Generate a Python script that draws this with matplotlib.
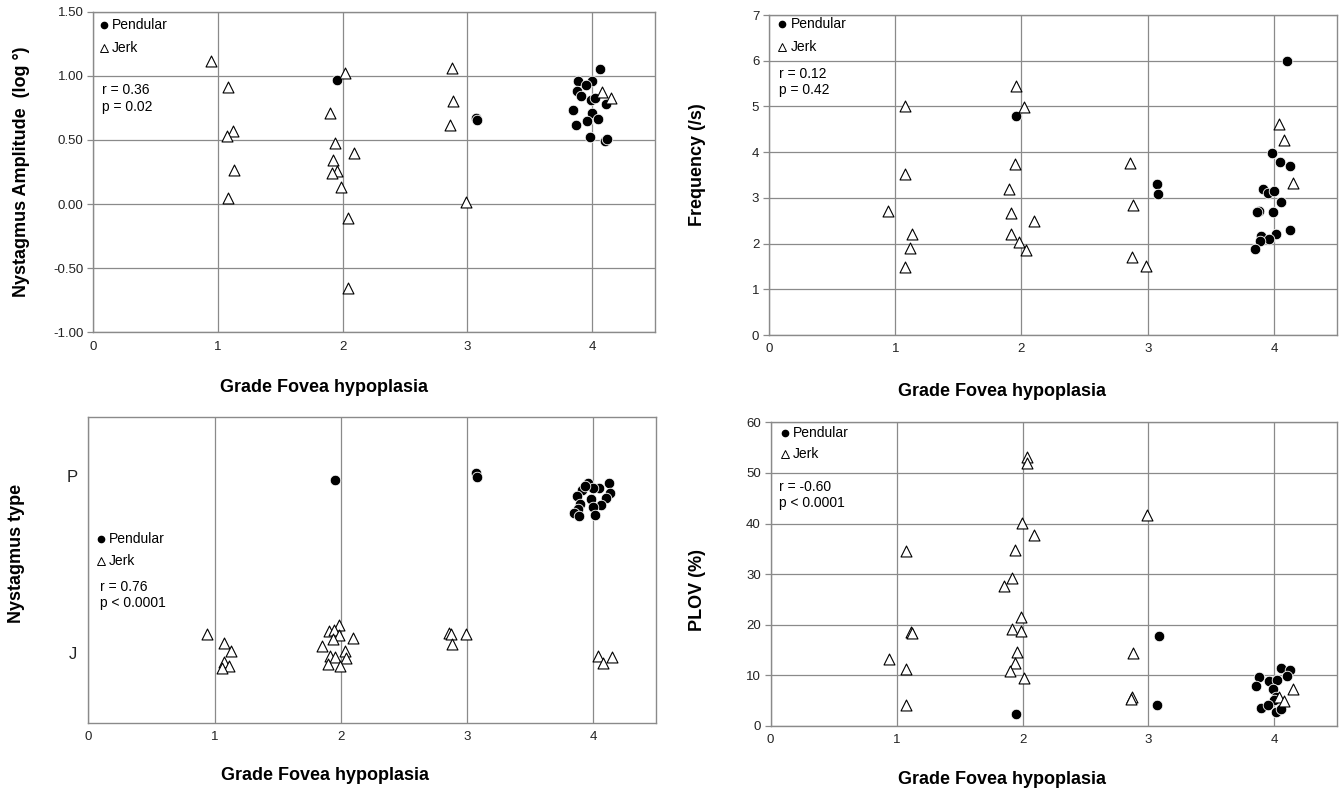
import matplotlib
matplotlib.use('Agg')
import matplotlib.pyplot as plt
from matplotlib.lines import Line2D

plt.rcParams['font.family'] = ['Liberation Sans', 'DejaVu Sans']

# valores (grau com jitter no eixo x)
grades = [0, 1, 2, 3, 4]

# A: amplitude do nistagmo (log graus)
amp_pend_x = [1.95, 3.07, 3.08, 4.06, 3.89, 4.00, 3.95, 3.875, 3.91, 3.99,
              4.02, 4.11, 3.85, 3.995, 4.05, 3.96, 3.87, 3.98, 4.105, 4.12]
amp_pend_y = [0.97, 0.67, 0.655, 1.05, 0.96, 0.96, 0.925, 0.885, 0.845, 0.815,
              0.83, 0.78, 0.73, 0.71, 0.665, 0.645, 0.62, 0.525, 0.495, 0.505]
amp_jerk_x = [0.94, 1.08, 1.12, 1.07, 1.13, 1.08, 2.015, 1.90, 1.94, 2.09, 1.92,
              1.955, 1.91, 1.985, 2.04, 2.04, 2.875, 2.88, 2.86, 2.99, 4.08, 4.15]
amp_jerk_y = [1.115, 0.91, 0.57, 0.53, 0.265, 0.045, 1.02, 0.71, 0.48, 0.40, 0.34,
              0.26, 0.24, 0.13, -0.11, -0.655, 1.06, 0.805, 0.62, 0.015, 0.87, 0.83]

# B: frequencia (/s)
freq_pend_x = [1.955, 3.07, 3.085, 4.105, 3.985, 4.05, 4.13, 3.91, 3.95, 4.0,
               4.06, 3.88, 3.87, 3.995, 4.125, 4.02, 3.90, 3.96, 3.89, 3.85]
freq_pend_y = [4.79, 3.30, 3.09, 6.0, 3.99, 3.79, 3.70, 3.19, 3.10, 3.15,
               2.90, 2.72, 2.70, 2.69, 2.29, 2.20, 2.17, 2.09, 2.06, 1.89]
freq_jerk_x = [1.08, 1.08, 0.945, 1.13, 1.12, 1.08, 1.955, 2.02, 1.95, 1.90, 1.92,
               2.10, 1.915, 1.98, 2.04, 2.86, 2.88, 2.875, 2.99, 4.04, 4.08, 4.15]
freq_jerk_y = [5.0, 3.52, 2.71, 2.20, 1.90, 1.48, 5.45, 4.98, 3.74, 3.19, 2.66,
               2.49, 2.20, 2.04, 1.86, 3.76, 2.84, 1.71, 1.52, 4.62, 4.27, 3.33]

# C: tipo de nistagmo (J = 1, P = 2, com jitter)
type_pend_x = [1.956, 3.07, 3.083, 3.96, 4.13, 4.05, 3.91, 3.997, 4.135, 3.876,
               3.986, 4.10, 3.90, 4.06, 3.88, 4.0, 3.853, 3.89, 4.02, 3.936]
type_pend_y = [1.977, 2.019, 1.992, 1.959, 1.959, 1.932, 1.921, 1.93, 1.902, 1.889,
               1.868, 1.874, 1.844, 1.834, 1.816, 1.827, 1.791, 1.773, 1.782, 1.944]
type_jerk_x = [0.937, 1.074, 1.13, 1.077, 1.118, 1.055, 1.99, 1.91, 1.95, 1.986,
               1.94, 2.10, 1.854, 2.03, 1.917, 1.956, 2.04, 1.898, 1.997, 2.86,
               2.876, 2.88, 2.99, 4.04, 4.15, 4.08]
type_jerk_y = [1.109, 1.055, 1.011, 0.951, 0.925, 0.913, 1.158, 1.124, 1.128, 1.10,
               1.077, 1.085, 1.041, 1.011, 0.983, 0.979, 0.974, 0.940, 0.927, 1.115,
               1.105, 1.053, 1.105, 0.983, 0.979, 0.945]
type_ticks = [1, 2]
type_labels = ['J', 'P']

# D: PLOV (%)
plov_pend_x = [1.952, 3.08, 3.07, 4.05, 4.12, 3.88, 3.956, 4.02, 4.10, 3.85,
               3.985, 4.015, 3.995, 3.894, 3.95, 4.015, 4.056]
plov_pend_y = [2.4, 17.85, 4.2, 11.4, 11.1, 9.75, 8.96, 9.1, 9.9, 8.0,
               7.3, 5.8, 5.1, 3.6, 4.15, 2.8, 3.4]
plov_jerk_x = [2.037, 2.037, 2.99, 1.996, 2.09, 1.078, 1.937, 1.915, 1.853, 1.985,
               1.117, 1.125, 1.919, 1.987, 2.879, 1.955, 1.943, 0.937, 1.075, 1.899,
               2.014, 4.15, 1.078, 2.87, 2.86, 4.04, 4.08]
plov_jerk_y = [53.2, 52.0, 41.7, 40.2, 37.7, 34.6, 34.8, 29.3, 27.7, 21.5,
               18.6, 18.3, 19.2, 18.8, 14.4, 14.6, 12.5, 13.2, 11.3, 10.9,
               9.4, 7.4, 4.15, 5.7, 5.3, 5.7, 4.9]

W, H = 1343, 794
GRID = '#8a8a8a'
fig = plt.figure(figsize=(W / 100, H / 100), dpi=100)


def box(l, t, r, b):
    # caixa em pixels -> fracao da figura
    return [l / W, 1 - b / H, (r - l) / W, (b - t) / H]


def fx(x):
    return x / W


def fy(y):
    return 1 - y / H


def estilo(ax, ylim, yticks, ylabels, hgrid=True):
    ax.set_xlim(0, 4.5)
    ax.set_ylim(*ylim)
    ax.set_xticks(grades)
    ax.set_xticklabels([str(g) for g in grades])
    ax.set_yticks(yticks)
    ax.set_yticklabels(ylabels)
    ax.xaxis.grid(True, color=GRID, lw=0.9)
    ax.tick_params(labelsize=9.5, labelcolor='#222222')
    if hgrid:
        ax.yaxis.grid(True, color=GRID, lw=0.9)
        ax.tick_params(axis='y', length=4, width=0.9, color=GRID, pad=3)
    else:
        ax.tick_params(axis='y', length=0, pad=8, labelsize=12)
    ax.tick_params(axis='x', length=0, pad=6)
    ax.set_axisbelow(True)
    for s in ax.spines.values():
        s.set_color(GRID)
        s.set_linewidth(1.0)


def pontos(ax, px, py, jx, jy):
    ax.scatter(px, py, s=58, marker='o', facecolor='black', edgecolor='white',
               linewidth=0.6, zorder=3)
    ax.scatter(jx, jy, s=62, marker='^', facecolor='white', edgecolor='black',
               linewidth=0.8, zorder=4)


def legenda(mx, tx, yp, yj, sx, yr, ypv, rtxt, ptxt):
    fig.add_artist(Line2D([fx(mx)], [fy(yp)], marker='o', ms=4.5, color='black',
                          lw=0, transform=fig.transFigure))
    fig.add_artist(Line2D([fx(mx)], [fy(yj)], marker='^', ms=5.5, mfc='white',
                          mec='black', mew=0.7, lw=0, transform=fig.transFigure))
    fig.text(fx(tx), fy(yp), 'Pendular', fontsize=10, va='center')
    fig.text(fx(tx), fy(yj), 'Jerk', fontsize=10, va='center')
    fig.text(fx(sx), fy(yr), rtxt, fontsize=10, va='center')
    fig.text(fx(sx), fy(ypv), ptxt, fontsize=10, va='center')


# Grafico A
ax1 = fig.add_axes(box(93.4, 11.7, 654.5, 332.3))
estilo(ax1, (-1.0, 1.5), [-1.0, -0.5, 0, 0.5, 1.0, 1.5],
       ['%.2f' % v for v in [-1.0, -0.5, 0, 0.5, 1.0, 1.5]])
pontos(ax1, amp_pend_x, amp_pend_y, amp_jerk_x, amp_jerk_y)
legenda(104, 111.5, 25, 48, 102.5, 90, 107, 'r = 0.36', 'p = 0.02')

# Grafico B
ax2 = fig.add_axes(box(769, 15, 1337, 335))
estilo(ax2, (0, 7), range(0, 8), [str(v) for v in range(0, 8)])
pontos(ax2, freq_pend_x, freq_pend_y, freq_jerk_x, freq_jerk_y)
legenda(782, 790.5, 24, 47, 779, 74, 90, 'r = 0.12', 'p = 0.42')

# Grafico C
ax3 = fig.add_axes(box(88.5, 416.7, 656, 722.7))
estilo(ax3, (0.606, 2.335), type_ticks, type_labels, hgrid=False)
pontos(ax3, type_pend_x, type_pend_y, type_jerk_x, type_jerk_y)
legenda(100.6, 108.5, 539, 561, 99.6, 587, 603, 'r = 0.76', 'p < 0.0001')

# Grafico D
ax4 = fig.add_axes(box(770.6, 422.3, 1337.4, 726))
estilo(ax4, (0, 60), range(0, 70, 10), [str(v) for v in range(0, 70, 10)])
pontos(ax4, plov_pend_x, plov_pend_y, plov_jerk_x, plov_jerk_y)
legenda(785, 793, 433, 454, 778.6, 487, 503, 'r = -0.60', 'p < 0.0001')

# titulos dos eixos
rot = dict(fontsize=13, fontweight='bold', rotation=90, ha='center', va='center')
fig.text(fx(22), fy(172), 'Nystagmus Amplitude  (log °)', **rot)
fig.text(fx(698), fy(165), 'Frequency (/s)', **rot)
fig.text(fx(17), fy(553), 'Nystagmus type', **rot)
fig.text(fx(698), fy(590), 'PLOV (%)', **rot)

hor = dict(fontsize=13, fontweight='bold', ha='center', va='center')
fig.text(fx(324), fy(388), 'Grade Fovea hypoplasia', **hor)
fig.text(fx(1002), fy(392), 'Grade Fovea hypoplasia', **hor)
fig.text(fx(325), fy(776), 'Grade Fovea hypoplasia', **hor)
fig.text(fx(1002), fy(780), 'Grade Fovea hypoplasia', **hor)

fig.savefig('out.png', dpi=100)
